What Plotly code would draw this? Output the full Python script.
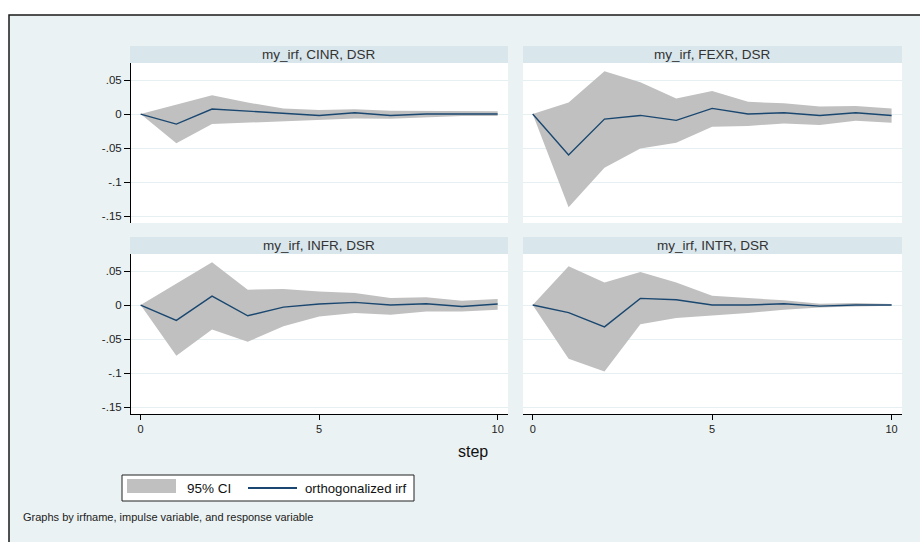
import plotly.graph_objects as go

steps = list(range(11))

titles = ["my_irf, CINR, DSR", "my_irf, FEXR, DSR", "my_irf, INFR, DSR", "my_irf, INTR, DSR"]

cinr_irf = [0, -0.0147, 0.0074, 0.0044, 0.001, -0.002, 0.002, -0.002, 0.0, 0.0, 0.0]
cinr_hi = [0, 0.014, 0.0275, 0.017, 0.008, 0.006, 0.007, 0.005, 0.005, 0.0045, 0.004]
cinr_lo = [0, -0.043, -0.0147, -0.0127, -0.011, -0.009, -0.0064, -0.007, -0.005, -0.003, -0.003]

fexr_irf = [0, -0.060, -0.0074, -0.002, -0.0093, 0.0083, 0.0, 0.002, -0.002, 0.002, -0.002]
fexr_hi = [0, 0.017, 0.063, 0.0466, 0.023, 0.034, 0.018, 0.0157, 0.011, 0.012, 0.0083]
fexr_lo = [0, -0.137, -0.079, -0.0505, -0.042, -0.0186, -0.0176, -0.0137, -0.016, -0.0098, -0.0127]

infr_irf = [0, -0.0225, 0.0132, -0.0157, -0.003, 0.0015, 0.004, 0.0, 0.002, -0.002, 0.0015]
infr_hi = [0, 0.032, 0.063, 0.0225, 0.0235, 0.020, 0.0176, 0.0103, 0.0113, 0.0064, 0.0088]
infr_lo = [0, -0.0745, -0.036, -0.054, -0.031, -0.0167, -0.0118, -0.0142, -0.0093, -0.0093, -0.0069]

intr_irf = [0, -0.011, -0.032, 0.0098, 0.0078, 0.0, 0.0, 0.002, -0.0015, 0.0, 0.0]
intr_hi = [0, 0.057, 0.033, 0.0485, 0.033, 0.0137, 0.0103, 0.007, 0.002, 0.003, 0.0015]
intr_lo = [0, -0.079, -0.0975, -0.028, -0.019, -0.0157, -0.0118, -0.0069, -0.0034, -0.002, -0.001]

y_tickvals = [0.05, 0, -0.05, -0.1, -0.15]
y_ticktext = [".05", "0", "-.05", "-.1", "-.15"]
x_tickvals = [0, 5, 10]
x_ticktext = ["0", "5", "10"]

panels = [
    (cinr_irf, cinr_lo, cinr_hi),
    (fexr_irf, fexr_lo, fexr_hi),
    (infr_irf, infr_lo, infr_hi),
    (intr_irf, intr_lo, intr_hi),
]

W, H = 920, 542
NAVY = "#1a476f"
CIGRAY = "#c0c0c0"
BG = "#eaf2f3"
BAND = "#d9e6eb"
GRID = "#e6eff1"
FONT = "Liberation Sans"

# panel pixel boxes: (x0, x1, y0_top, y1_bottom)
boxes = [
    (131, 508, 63, 223),
    (523, 902, 63, 223),
    (131, 508, 254, 414),
    (523, 902, 254, 414),
]

def px(x):
    return x / W

def py(y):
    return 1 - y / H

fig = go.Figure()

for i, (irf, lo, hi) in enumerate(panels):
    n = "" if i == 0 else str(i + 1)
    xa, ya = "x" + n, "y" + n
    fig.add_trace(go.Scatter(x=steps, y=lo, xaxis=xa, yaxis=ya, mode="lines",
                             line=dict(width=0, color=CIGRAY), showlegend=False, hoverinfo="skip"))
    fig.add_trace(go.Scatter(x=steps, y=hi, xaxis=xa, yaxis=ya, mode="lines", fill="tonexty",
                             fillcolor=CIGRAY, line=dict(width=0, color=CIGRAY),
                             showlegend=False, hoverinfo="skip"))
    fig.add_trace(go.Scatter(x=steps, y=irf, xaxis=xa, yaxis=ya, mode="lines",
                             line=dict(width=1.4, color=NAVY), showlegend=False))

layout = dict(
    width=W, height=H,
    margin=dict(l=0, r=0, t=0, b=0),
    paper_bgcolor="white",
    plot_bgcolor="white",
    font=dict(family=FONT, color="#222222"),
    showlegend=False,
)

for i, (x0, x1, yt, yb) in enumerate(boxes):
    n = "" if i == 0 else str(i + 1)
    left = i in (0, 2)
    bottom = i in (2, 3)
    layout["xaxis" + n] = dict(
        domain=[px(x0), px(x1)], range=[-0.27, 10.29], anchor="y" + n,
        showgrid=False, zeroline=False,
        showline=bottom, linecolor="black", linewidth=1,
        ticks="outside" if bottom else "", ticklen=5, tickcolor="black",
        tickvals=x_tickvals, ticktext=x_ticktext, showticklabels=bottom,
        tickfont=dict(size=11, family=FONT, color="#222222"),
        fixedrange=True,
    )
    layout["yaxis" + n] = dict(
        domain=[py(yb), py(yt)], range=[-0.160, 0.075], anchor="x" + n,
        showgrid=True, gridcolor=GRID, gridwidth=1, zeroline=False,
        showline=left, linecolor="black", linewidth=1,
        ticks="outside" if left else "", ticklen=6, tickcolor="black",
        tickvals=y_tickvals, ticktext=y_ticktext, showticklabels=left,
        tickfont=dict(size=11.5, family=FONT, color="#222222"),
        fixedrange=True,
    )

shapes = []
annotations = []

# outer frame with background
shapes.append(dict(type="rect", xref="paper", yref="paper", layer="below",
                   x0=px(9), x1=px(930), y0=py(560), y1=py(15),
                   fillcolor=BG, line=dict(color="#1a1a1a", width=1.5)))

band_boxes = [
    (130, 508, 46, 63),
    (523, 902, 46, 63),
    (130, 508, 237, 254),
    (523, 902, 237, 254),
]
for i, (bx0, bx1, by0, by1) in enumerate(band_boxes):
    x0, x1, yt, yb = boxes[i]
    shapes.append(dict(type="rect", xref="paper", yref="paper", layer="below",
                       x0=px(bx0), x1=px(bx1), y0=py(yb), y1=py(yt),
                       fillcolor="white", line=dict(width=0)))
    shapes.append(dict(type="rect", xref="paper", yref="paper", layer="below",
                       x0=px(bx0), x1=px(bx1), y0=py(by1), y1=py(by0),
                       fillcolor=BAND, line=dict(width=0)))
    annotations.append(dict(xref="paper", yref="paper", x=px((bx0 + bx1) / 2), y=py((by0 + by1) / 2),
                            text=titles[i], showarrow=False, xanchor="center", yanchor="middle",
                            font=dict(size=13.5, family=FONT, color="#333333")))

# x axis title
annotations.append(dict(xref="paper", yref="paper", x=px(473), y=py(451), text="step",
                        showarrow=False, xanchor="center", yanchor="middle",
                        font=dict(size=16, family=FONT, color="#111111")))

# custom legend
shapes.append(dict(type="rect", xref="paper", yref="paper",
                   x0=px(122), x1=px(414), y0=py(501), y1=py(475),
                   fillcolor="white", line=dict(color="#222222", width=1)))
shapes.append(dict(type="rect", xref="paper", yref="paper",
                   x0=px(127), x1=px(176), y0=py(493), y1=py(479),
                   fillcolor=CIGRAY, line=dict(width=0)))
shapes.append(dict(type="line", xref="paper", yref="paper",
                   x0=px(248), x1=px(297), y0=py(488), y1=py(488),
                   line=dict(color=NAVY, width=2)))
annotations.append(dict(xref="paper", yref="paper", x=px(185), y=py(488), text="95% CI",
                        showarrow=False, xanchor="left", yanchor="middle",
                        font=dict(size=13.5, family=FONT, color="#111111")))
annotations.append(dict(xref="paper", yref="paper", x=px(303), y=py(488), text="orthogonalized irf",
                        showarrow=False, xanchor="left", yanchor="middle",
                        font=dict(size=13.2, family=FONT, color="#111111")))

# note
annotations.append(dict(xref="paper", yref="paper", x=px(21), y=py(517),
                        text="Graphs by irfname, impulse variable, and response variable",
                        showarrow=False, xanchor="left", yanchor="middle",
                        font=dict(size=11, family=FONT, color="#222222")))

layout["shapes"] = shapes
layout["annotations"] = annotations
fig.update_layout(**layout)

fig.write_html("out.html", config={"displayModeBar": False},
               post_script="document.body.style.margin='0px';document.body.style.overflow='hidden';")
